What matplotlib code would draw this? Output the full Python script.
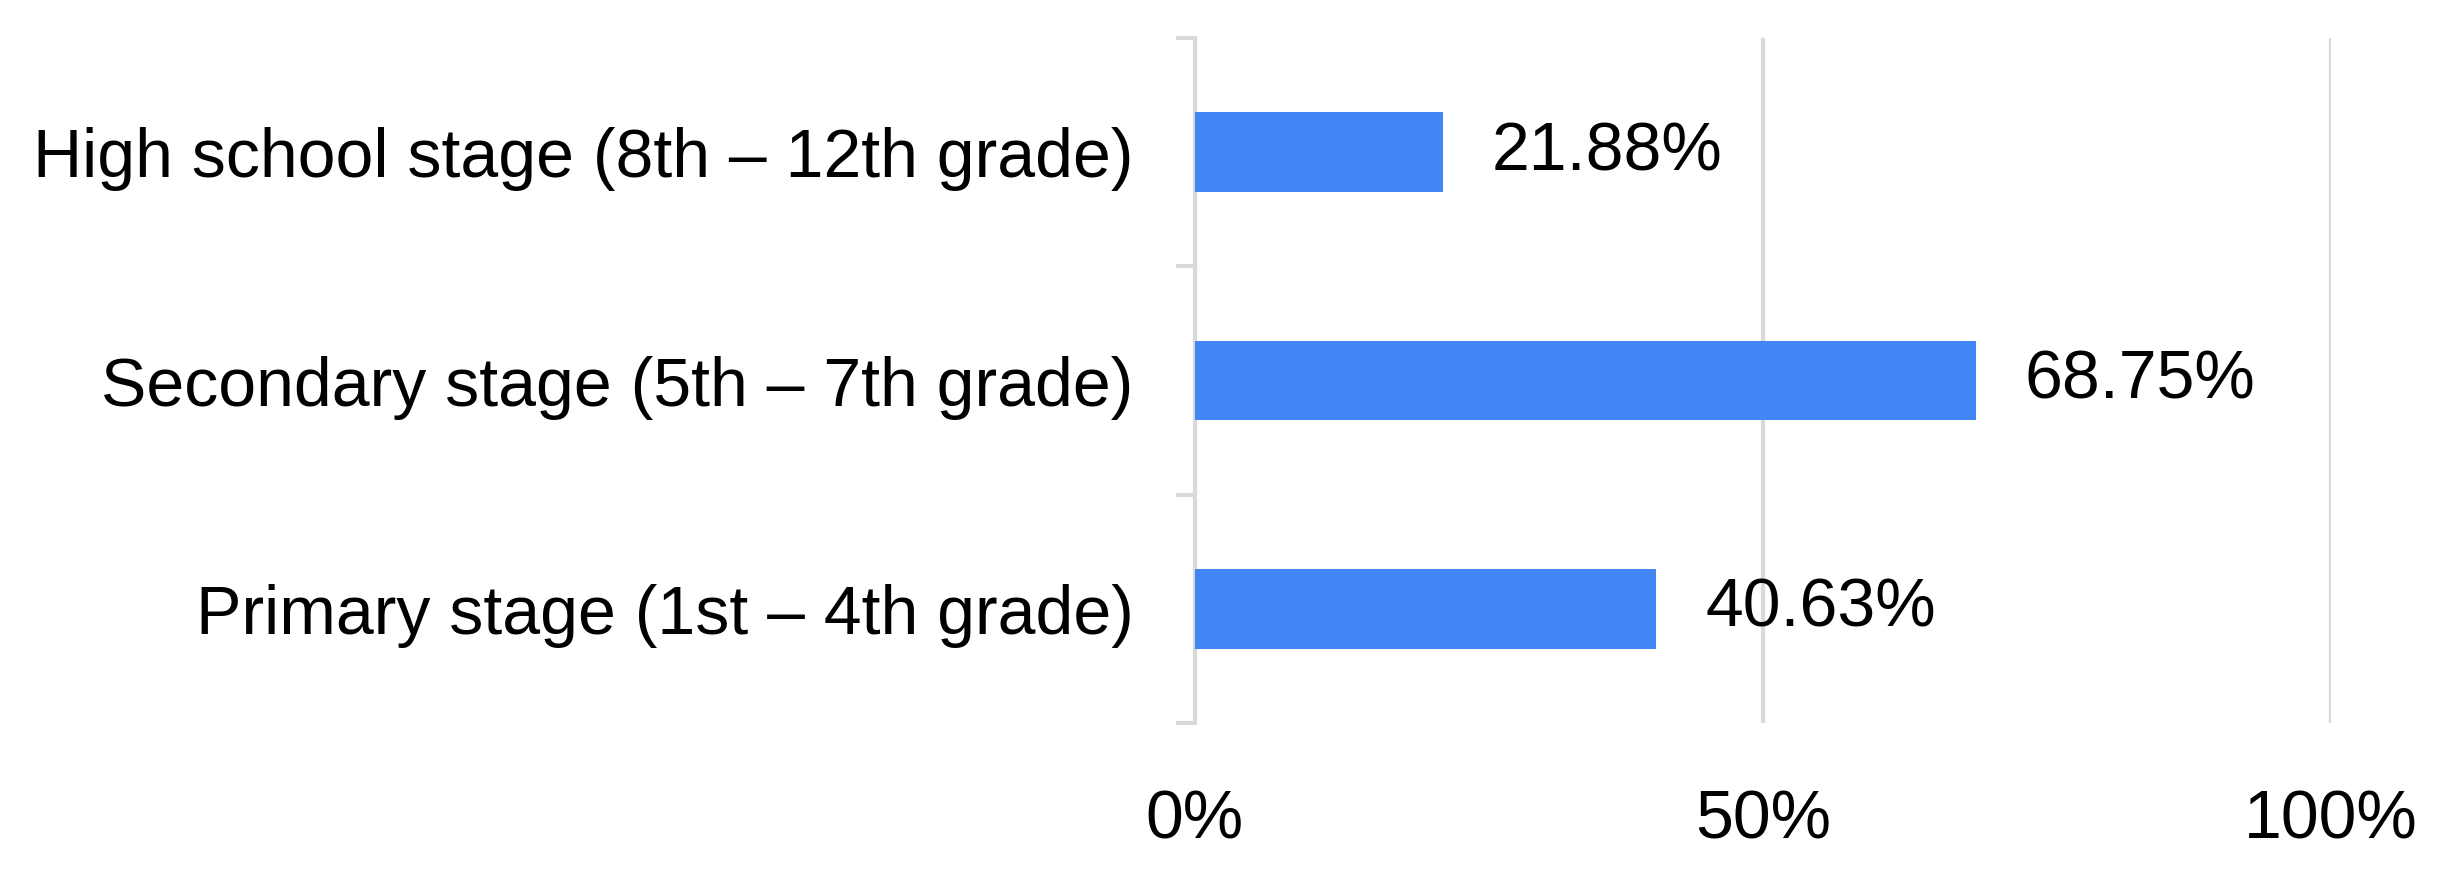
import numpy as np
import matplotlib
matplotlib.use("Agg")
import matplotlib.pyplot as plt


CATEGORIES = [
    "Primary stage (1st \u2013 4th grade)",
    "Secondary stage (5th \u2013 7th grade)",
    "High school stage (8th \u2013 12th grade)",
]
VALUES = [40.63, 68.75, 21.88]
X_TICKS = [0, 50, 100]
X_TICK_LABELS = ["0%", "50%", "100%"]

BAR_COLOR = "#4285F4"
GRID_COLOR = "#d9d9d9"
FONT = "Liberation Sans"


def main():
    plt.rcParams["font.family"] = [FONT, "DejaVu Sans"]

    fig = plt.figure(figsize=(24.39, 8.8), dpi=100)
    ax = fig.add_axes([0.4899, 0.1784, 0.9557 - 0.4899, 0.9568 - 0.1784])

    y = np.arange(len(CATEGORIES))
    ax.barh(y, VALUES, height=0.35, color=BAR_COLOR, zorder=3)

    for yi, v in zip(y, VALUES):
        ax.annotate(f"{v:.2f}%", xy=(v, yi), xytext=(35, 0),
                    textcoords="offset points", ha="left", va="center",
                    fontsize=49, color="black")

    ax.set_xlim(0, 100)
    ax.set_ylim(-0.5, len(CATEGORIES) - 0.5)

    # x axis: labels only, gridlines at 50 and 100
    ax.set_xticks(X_TICKS)
    ax.set_xticklabels(X_TICK_LABELS, fontsize=49)
    ax.tick_params(axis="x", length=0, pad=47)
    for xv in X_TICKS[1:]:
        ax.axvline(xv, color=GRID_COLOR, lw=3, zorder=1)

    # y axis: boundary ticks as major, labels on minor at category centres
    ax.set_yticks(np.arange(-0.5, len(CATEGORIES), 1.0))
    ax.set_yticklabels([])
    ax.tick_params(axis="y", which="major", length=14, width=3,
                   color=GRID_COLOR, direction="out")
    ax.set_yticks(y, minor=True)
    ax.set_yticklabels(CATEGORIES, minor=True, fontsize=49)
    ax.tick_params(axis="y", which="minor", length=0, pad=44)

    for s in ["top", "right", "bottom"]:
        ax.spines[s].set_visible(False)
    ax.spines["left"].set_color(GRID_COLOR)
    ax.spines["left"].set_linewidth(3)

    fig.savefig("out.png", dpi=100)
    plt.close(fig)


if __name__ == "__main__":
    main()
